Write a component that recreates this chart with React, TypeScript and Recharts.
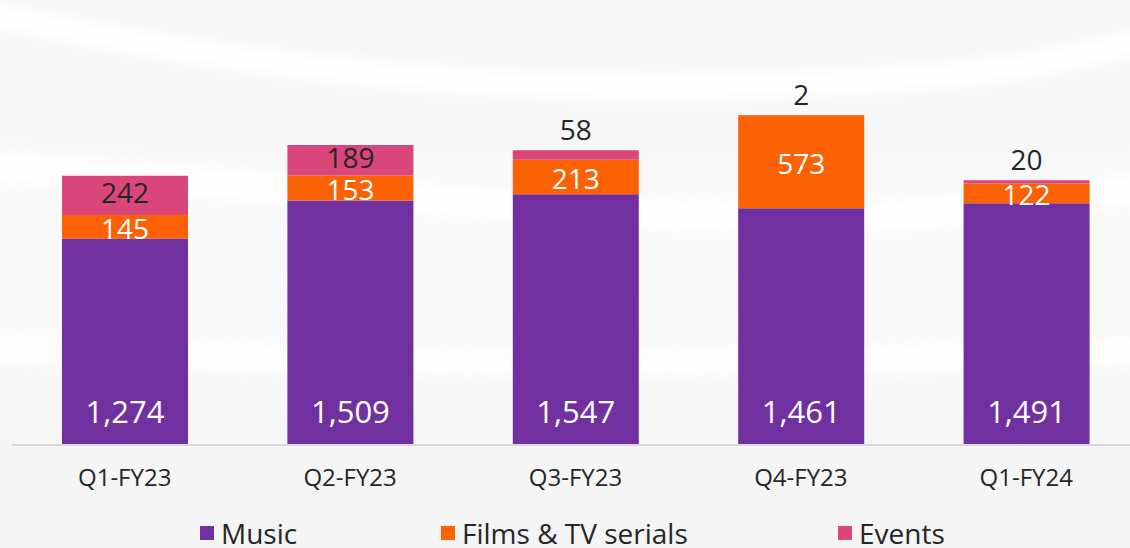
import React from 'react';
import { BarChart, Bar, XAxis, YAxis, LabelList, Legend } from 'recharts';

const categories = ['Q1-FY23', 'Q2-FY23', 'Q3-FY23', 'Q4-FY23', 'Q1-FY24'];
const music = [1274, 1509, 1547, 1461, 1491];
const films = [145, 153, 213, 573, 122];
const events = [242, 189, 58, 2, 20];

const seriesNames = ['Music', 'Films & TV serials', 'Events'];
const COLORS = { music: '#7130A0', films: '#FC6203', events: '#DA457A' };

const data = categories.map((c, i) => ({
  name: c,
  music: music[i],
  films: films[i],
  events: events[i],
}));

const FONT = '"Open Sans", Roboto, "Liberation Sans", sans-serif';
const DARK = '#262626';

const fmt = (v: number) => v.toLocaleString('en-US');

const MusicLabel = (p: any) => {
  const { x, y, width, height, value } = p;
  return (
    <text x={x + width / 2} y={y + height - 34} textAnchor="middle" dominantBaseline="central"
      fill="#fff" fontSize={31} fontFamily={FONT}>{fmt(value)}</text>
  );
};

const FilmsLabel = (p: any) => {
  const { x, y, width, height, value } = p;
  return (
    <text x={x + width / 2} y={y + height / 2 + 1} textAnchor="middle" dominantBaseline="central"
      fill="#fff" fontSize={28} fontFamily={FONT}>{fmt(value)}</text>
  );
};

const EventsLabel = (p: any) => {
  const { x, y, width, height, value } = p;
  const inside = height > 25;
  const cy = inside ? y + height / 2 - 3 : y - 21;
  return (
    <text x={x + width / 2} y={cy} textAnchor="middle" dominantBaseline="central"
      fill={DARK} fontSize={28} fontFamily={FONT}>{fmt(value)}</text>
  );
};

const legendColors = [COLORS.music, COLORS.films, COLORS.events];
const legendWidths = [241, 397, 250];

const LegendContent = () => (
  <div style={{ display: 'flex', paddingLeft: 200, height: 30, alignItems: 'center', fontFamily: FONT, fontSize: 28, color: DARK, lineHeight: '30px' }}>
    {seriesNames.map((n, i) => (
      <div key={n} style={{ width: legendWidths[i], display: 'flex', alignItems: 'center', whiteSpace: 'nowrap' }}>
        <span style={{ display: 'inline-block', width: 14, height: 14, background: legendColors[i], marginRight: 7 }} />
        <span>{n}</span>
      </div>
    ))}
  </div>
);

const Background = () => (
  <svg width={1130} height={548} style={{ position: 'absolute', left: 0, top: 0 }}>
    <defs>
      <linearGradient id="bg" x1="0" y1="0" x2="0" y2="1">
        <stop offset="0" stopColor="#f6f6f6" />
        <stop offset="0.5" stopColor="#f9f9f9" />
        <stop offset="0.85" stopColor="#f5f5f5" />
        <stop offset="1" stopColor="#f3f3f3" />
      </linearGradient>
      <filter id="blur" x="-20%" y="-200%" width="140%" height="500%"><feGaussianBlur stdDeviation="7" /></filter>
    </defs>
    <rect x={-20} y={-20} width={1200} height={600} fill="url(#bg)" />
    <path d="M -40 8 C 200 60, 450 95, 760 85 S 1050 55, 1180 35" stroke="#ffffff" strokeWidth={24} fill="none" filter="url(#blur)" />
    <path d="M -40 165 C 200 180, 450 205, 700 215 S 1000 200, 1180 185" stroke="#ffffff" strokeWidth={30} fill="none" filter="url(#blur)" opacity={0.9} />
    <path d="M -40 345 C 250 360, 600 370, 1180 350" stroke="#ffffff" strokeWidth={28} fill="none" filter="url(#blur)" opacity={0.8} />
  </svg>
);

export default function App() {
  return (
    <div style={{ position: 'absolute', left: 0, top: 0, width: 1130, height: 548, overflow: 'hidden', background: '#f7f7f7' }}>
      <Background />
      <div style={{ position: 'absolute', left: 0, top: 0 }}>
        <BarChart width={1139} height={548} data={data} margin={{ top: 56, right: 0, bottom: 0, left: 12 }} barSize={126}>
          <XAxis dataKey="name" axisLine={{ stroke: '#d9d9d9', strokeWidth: 2 }} tickLine={false} tickSize={0} tickMargin={24} height={73}
            tick={{ fill: DARK, fontSize: 24, fontFamily: FONT }} />
          <YAxis hide domain={[0, 2400]} />
          <Legend verticalAlign="bottom" content={<LegendContent />} wrapperStyle={{ left: 0, width: 1130, bottom: 0, height: 30 }} />
          <Bar dataKey="music" stackId="a" fill={COLORS.music} isAnimationActive={false} name={seriesNames[0]}>
            <LabelList dataKey="music" content={MusicLabel} />
          </Bar>
          <Bar dataKey="films" stackId="a" fill={COLORS.films} isAnimationActive={false} name={seriesNames[1]}>
            <LabelList dataKey="films" content={FilmsLabel} />
          </Bar>
          <Bar dataKey="events" stackId="a" fill={COLORS.events} isAnimationActive={false} name={seriesNames[2]}>
            <LabelList dataKey="events" content={EventsLabel} />
          </Bar>
        </BarChart>
      </div>
    </div>
  );
}
